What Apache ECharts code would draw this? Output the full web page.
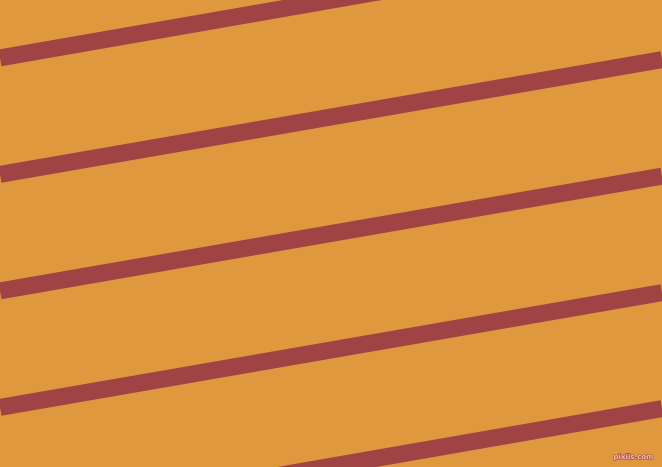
<!DOCTYPE html>
<html>
<head>
<meta charset="utf-8">
<script src="https://cdn.jsdelivr.net/npm/echarts@6/dist/echarts.min.js"></script>
<style>html,body{margin:0;padding:0;background:#E0983F}#c{width:662px;height:467px}</style>
</head>
<body>
<div id="c"></div>
<script>
var xEnds = [0, 662];
var stripeLeftY = [58, 174.5, 291, 407.5, 524];
var stripeRightY = [-57.5, 59.5, 176, 292.5, 408.5];
var watermark = 'pixiis.com';

var chart = echarts.init(document.getElementById('c'), null, {renderer: 'canvas'});
var series = stripeLeftY.map(function (ly, i) {
  return {
    type: 'line',
    data: [[xEnds[0], ly], [xEnds[1], stripeRightY[i]]],
    symbol: 'none',
    clip: true,
    silent: true,
    lineStyle: {color: '#9F4345', width: 17, cap: 'butt'}
  };
});
chart.setOption({
  animation: false,
  backgroundColor: '#E0983F',
  grid: {left: 0, right: 0, top: 0, bottom: 0},
  xAxis: {type: 'value', min: 0, max: 662, show: false},
  yAxis: {type: 'value', min: 0, max: 467, inverse: true, show: false},
  series: series,
  graphic: [{
    type: 'text',
    right: 8,
    bottom: 6,
    style: {
      text: watermark,
      font: 'bold 7px "DejaVu Sans", sans-serif',
      fill: '#F0BFB0',
      stroke: '#A54848',
      lineWidth: 1.2
    }
  }]
});
</script>
</body>
</html>
